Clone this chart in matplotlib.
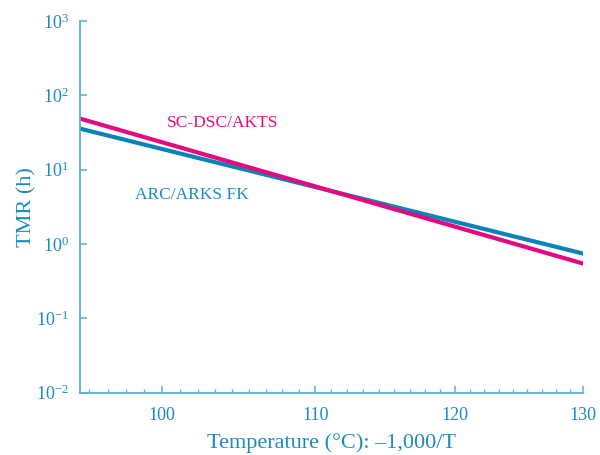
import numpy as np
import matplotlib
matplotlib.use('Agg')
import matplotlib.pyplot as plt
from matplotlib.ticker import FixedLocator, FixedFormatter, NullFormatter

# data (end points of the two fitted lines)
temps = [95, 130]
sc_dsc = [48.7, 0.545]
arc = [35.7, 0.743]

xticks = [100, 110, 120, 130]
yticks = [1e-2, 1e-1, 1e0, 1e1, 1e2, 1e3]
ylabels = ['$\\mathregular{10^{-2}}$', '$\\mathregular{10^{-1}}$', '$\\mathregular{10^{0}}$',
           '$\\mathregular{10^{1}}$', '$\\mathregular{10^{2}}$', '$\\mathregular{10^{3}}$']

blue = '#0a84b6'
pink = '#e6087f'
txt = '#1b8cc0'
axc = '#5cb0d4'

plt.rcParams['font.family'] = ['Liberation Serif', 'DejaVu Serif']
plt.rcParams['mathtext.fontset'] = 'custom'
plt.rcParams['mathtext.rm'] = 'Liberation Serif'

fig = plt.figure(figsize=(6, 4.55), dpi=100)
ax = fig.add_axes([0.1333, 0.1369, 0.8389, 0.8169])

ax.plot(temps, arc, color=blue, lw=3.0, solid_capstyle='butt')
ax.plot(temps, sc_dsc, color=pink, lw=3.0, solid_capstyle='butt')

ax.set_xscale('log')
ax.set_yscale('log')
ax.set_xlim(95, 130)
ax.set_ylim(1e-2, 1e3)

# minor ticks split each 10 degree step in 9
minors = [100 - k * 10 / 9 for k in range(1, 5)]
for start in [100, 110, 120]:
    minors += [start + k * 10 / 9 for k in range(1, 9)]
ax.xaxis.set_major_locator(FixedLocator(xticks))
ax.xaxis.set_major_formatter(FixedFormatter([str(t) for t in xticks]))
ax.xaxis.set_minor_locator(FixedLocator(minors))
ax.xaxis.set_minor_formatter(NullFormatter())
ax.yaxis.set_major_locator(FixedLocator(yticks))
ax.yaxis.set_major_formatter(FixedFormatter(ylabels))
ax.yaxis.set_minor_locator(FixedLocator([]))

for s in ['top', 'right']:
    ax.spines[s].set_visible(False)
for s in ['left', 'bottom']:
    ax.spines[s].set_color(axc)
    ax.spines[s].set_linewidth(1.3)

ax.tick_params(axis='both', which='major', direction='in', length=5, width=1.1,
               color=axc, labelcolor=txt, labelsize=13)
ax.tick_params(axis='y', pad=8)
ax.tick_params(axis='x', pad=10)
ax.tick_params(axis='x', which='minor', direction='in', length=3, width=1.0, color=axc)

ax.set_xlabel('Temperature (°C): \u20131,000/T', color=txt, fontsize=16, labelpad=7)
ax.set_ylabel('TMR (h)', color=txt, fontsize=16, labelpad=0)

ax.text(100.3, 42, 'SC-DSC/AKTS', color=pink, fontsize=12.5, va='center', ha='left')
ax.text(98.3, 4.5, 'ARC/ARKS FK', color=txt, fontsize=12.5, va='center', ha='left')

fig.savefig('out.png', dpi=100)
